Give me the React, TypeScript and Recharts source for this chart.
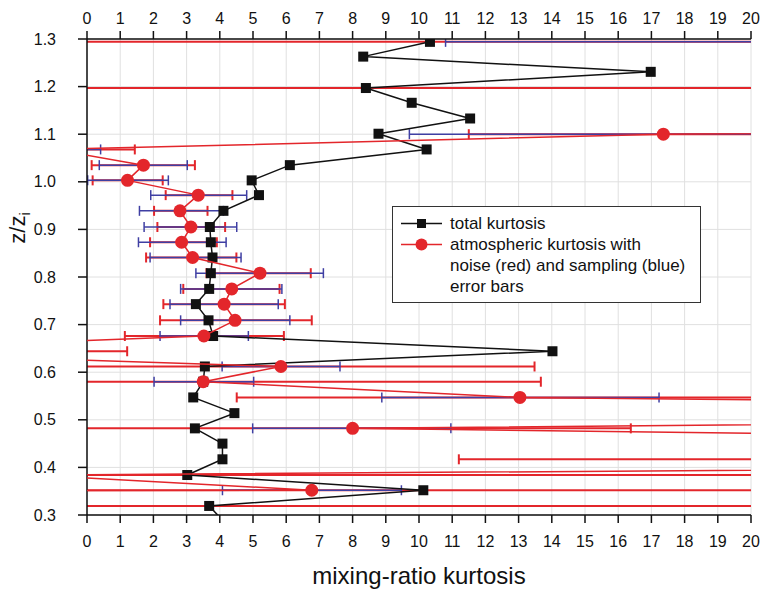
import React from 'react';
import {
  ScatterChart,
  Scatter,
  XAxis,
  YAxis,
  CartesianGrid,
  ErrorBar,
  Legend,
  Label
} from 'recharts';

const FONT = '"Liberation Sans", Arial, sans-serif';

// total kurtosis profile, top to bottom (z/zi)
const zTotal = [1.294, 1.263, 1.231, 1.197, 1.166, 1.133, 1.101, 1.068, 1.035, 1.003, 0.972, 0.939, 0.905, 0.873, 0.841, 0.808, 0.775, 0.743, 0.709, 0.676, 0.644, 0.612, 0.58, 0.547, 0.514, 0.482, 0.45, 0.417, 0.384, 0.352, 0.319, 0.287];
const totalKurtosis = [10.33, 8.32, 16.98, 8.4, 9.78, 11.54, 8.78, 10.23, 6.11, 4.96, 5.18, 4.11, 3.7, 3.73, 3.78, 3.73, 3.68, 3.28, 3.66, 3.8, 14.02, 3.55, 3.5, 3.2, 4.44, 3.25, 4.08, 4.08, 3.02, 10.13, 3.68, 4.11];

// atmospheric kurtosis with noise (red) and sampling (blue) error ranges
const zAtm = [1.294, 1.197, 1.1, 1.068, 1.035, 1.003, 0.972, 0.939, 0.905, 0.873, 0.841, 0.808, 0.775, 0.743, 0.709, 0.676, 0.644, 0.612, 0.58, 0.547, 0.514, 0.482, 0.45, 0.417, 0.384, 0.352, 0.319];
const atmKurtosis = [80, 300, 17.36, -1.0, 1.7, 1.22, 3.35, 2.8, 3.13, 2.85, 3.18, 5.21, 4.36, 4.13, 4.46, 3.52, -8.2, 5.84, 3.5, 13.04, 59, 8.0, 46, 70, -1.6, 6.77, -300];
const noiseLow = [-60, -120, 11.5, -6, 0.14, 0.17, 2.37, 2.02, 2.12, 1.9, 1.78, 3.6, 2.9, 2.3, 2.2, 1.14, -25, -4, -3, 4.51, 25, -3, 22, 11.2, -12, -3, -900];
const noiseHigh = [250, 900, 40, 1.44, 3.25, 2.28, 4.38, 3.63, 4.16, 3.91, 4.5, 6.74, 5.8, 5.96, 6.77, 5.93, 1.21, 13.48, 13.67, 24, 95, 16.38, 70, 130, 40, 25, 900];
const samplingLow = [10.8, 40, 9.71, -3, 0.37, 0.02, 1.92, 1.58, 1.72, 1.55, 1.9, 3.28, 2.82, 2.5, 2.82, 2.2, -14, 4.07, 2.02, 8.88, 35, 4.99, 30, 26, -3.5, 4.08, -600];
const samplingHigh = [200, 600, 30, 0.41, 3.02, 2.45, 4.81, 4.11, 4.51, 4.19, 4.64, 7.12, 5.87, 5.76, 6.11, 4.86, -3, 7.62, 5.02, 17.23, 80, 10.96, 60, 110, -0.4, 9.47, -40];

const xTicks = [0, 1, 2, 3, 4, 5, 6, 7, 8, 9, 10, 11, 12, 13, 14, 15, 16, 17, 18, 19, 20];
const yTicks = [0.3, 0.4, 0.5, 0.6, 0.7, 0.8, 0.9, 1.0, 1.1, 1.2, 1.3];

const RED = '#e3262b';
const BLUE = '#3f3fa3';
const BLACK = '#111';

const totalData = zTotal.map((z, i) => ({ z, k: totalKurtosis[i] }));
const atmData = zAtm.map((z, i) => {
  const k = atmKurtosis[i];
  return {
    z,
    k,
    noise: [k - noiseLow[i], noiseHigh[i] - k],
    sampling: [k - samplingLow[i], samplingHigh[i] - k]
  };
});

// layout
const W = 762;
const H = 592;
const MARGIN = { top: 9, right: 11, bottom: 47, left: 27 };
const X_AXIS_H = 30;
const Y_AXIS_W = 60;
const plotLeft = MARGIN.left + Y_AXIS_W;
const plotTop = MARGIN.top + X_AXIS_H;
const plotW = W - plotLeft - MARGIN.right;
const plotH = H - plotTop - MARGIN.bottom - X_AXIS_H;

const Square = (p: any) => (
  <rect x={p.cx - 5} y={p.cy - 5} width={10} height={10} fill={BLACK} />
);
const Dot = (p: any) => <circle cx={p.cx} cy={p.cy} r={6.5} fill={RED} />;

const tickStyle = { fontSize: 16, fill: BLACK, fontFamily: FONT };

const LegendBox = () => (
  <div
    style={{
      boxSizing: 'border-box',
      width: 309,
      height: 97,
      border: '1.5px solid #333',
      background: '#fff',
      padding: '6px 0 0 7px',
      fontFamily: FONT,
      fontSize: 17,
      lineHeight: '21px',
      color: BLACK,
      textAlign: 'left'
    }}
  >
    <div style={{ display: 'flex', alignItems: 'center', height: 21 }}>
      <svg width={44} height={21}>
        <line x1={1} x2={42} y1={10.5} y2={10.5} stroke={BLACK} strokeWidth={1.5} />
        <rect x={17} y={6} width={9} height={9} fill={BLACK} />
      </svg>
      <span style={{ marginLeft: 6 }}>total kurtosis</span>
    </div>
    <div style={{ display: 'flex', alignItems: 'center', height: 21 }}>
      <svg width={44} height={21}>
        <line x1={1} x2={42} y1={10.5} y2={10.5} stroke={RED} strokeWidth={1.5} />
        <circle cx={21.5} cy={10.5} r={6} fill={RED} />
      </svg>
      <span style={{ marginLeft: 6 }}>atmospheric kurtosis with</span>
    </div>
    <div style={{ paddingLeft: 50 }}>noise (red) and sampling (blue)</div>
    <div style={{ paddingLeft: 50 }}>error bars</div>
  </div>
);

const YLabel = (props: any) => {
  const vb = props.viewBox || { x: 0, y: 0 };
  return (
    <text
      transform={`translate(${vb.x - 2}, ${vb.y + 189}) rotate(-90)`}
      textAnchor="middle"
      fontSize={22}
      fontFamily={FONT}
      fill={BLACK}
    >
      z/z<tspan fontSize={14} dy={5}>i</tspan>
    </text>
  );
};

// series that run past the axes are cut at the plot frame
const clipCss = `
.recharts-scatter, .recharts-errorBars, .recharts-errorBar, .recharts-scatter-line {
  clip-path: url(#kurtosis-plot-clip);
}
`;

export default function App() {
  return (
    <div style={{ position: 'absolute', left: 0, top: 0, width: W, height: H }}>
      <style>{clipCss}</style>
      <svg width={0} height={0} style={{ position: 'absolute' }}>
        <defs>
          <clipPath id="kurtosis-plot-clip" clipPathUnits="userSpaceOnUse">
            <rect x={plotLeft} y={plotTop} width={plotW} height={plotH} />
          </clipPath>
        </defs>
      </svg>
      <ScatterChart width={W} height={H} margin={MARGIN}>
        <CartesianGrid stroke="#e0e0e0" strokeWidth={1} />
        <XAxis
          type="number"
          dataKey="k"
          domain={[0, 20]}
          ticks={xTicks}
          interval={0}
          allowDataOverflow
          height={X_AXIS_H}
          stroke={BLACK}
          strokeWidth={1.5}
          tickSize={8}
          tickMargin={13}
          tick={tickStyle}
        >
          <Label
            value="mixing-ratio kurtosis"
            position="bottom"
            offset={22}
            style={{ fontSize: 24, fill: BLACK, fontFamily: FONT }}
          />
        </XAxis>
        <XAxis
          xAxisId="top"
          orientation="top"
          type="number"
          dataKey="k"
          domain={[0, 20]}
          ticks={xTicks}
          interval={0}
          allowDataOverflow
          height={X_AXIS_H}
          stroke={BLACK}
          strokeWidth={1.5}
          tickSize={8}
          tickMargin={7}
          tick={tickStyle}
        />
        <YAxis
          type="number"
          dataKey="z"
          domain={[0.3, 1.3]}
          ticks={yTicks}
          interval={0}
          allowDataOverflow
          width={Y_AXIS_W}
          stroke={BLACK}
          strokeWidth={1.5}
          tickSize={9}
          tickMargin={22}
          tick={tickStyle}
          tickFormatter={(v: number) => v.toFixed(1)}
        >
          <Label content={<YLabel />} position="left" />
        </YAxis>
        <YAxis
          yAxisId="right"
          orientation="right"
          type="number"
          dataKey="z"
          domain={[0.3, 1.3]}
          allowDataOverflow
          width={0}
          stroke={BLACK}
          strokeWidth={1.5}
          tick={false}
          tickLine={false}
        />
        <Legend
          layout="vertical"
          align="center"
          verticalAlign="middle"
          width={309}
          wrapperStyle={{ left: 392, top: 206, width: 309 }}
          content={<LegendBox />}
        />
        <Scatter
          name="total kurtosis"
          data={totalData}
          fill={BLACK}
          line={{ stroke: BLACK, strokeWidth: 1.5 }}
          shape={Square}
          isAnimationActive={false}
        />
        {/* same 0–20 range as the bottom axis; binding here makes the top axis draw */}
        <Scatter
          name="atmospheric kurtosis"
          data={atmData}
          xAxisId="top"
          yAxisId="right"
          fill={RED}
          line={{ stroke: RED, strokeWidth: 1.5 }}
          shape={Dot}
          isAnimationActive={false}
        >
          <ErrorBar dataKey="noise" direction="x" stroke={RED} strokeWidth={2} width={5} isAnimationActive={false} />
          <ErrorBar dataKey="sampling" direction="x" stroke={BLUE} strokeWidth={1.5} width={5} isAnimationActive={false} />
        </Scatter>
      </ScatterChart>
    </div>
  );
}
